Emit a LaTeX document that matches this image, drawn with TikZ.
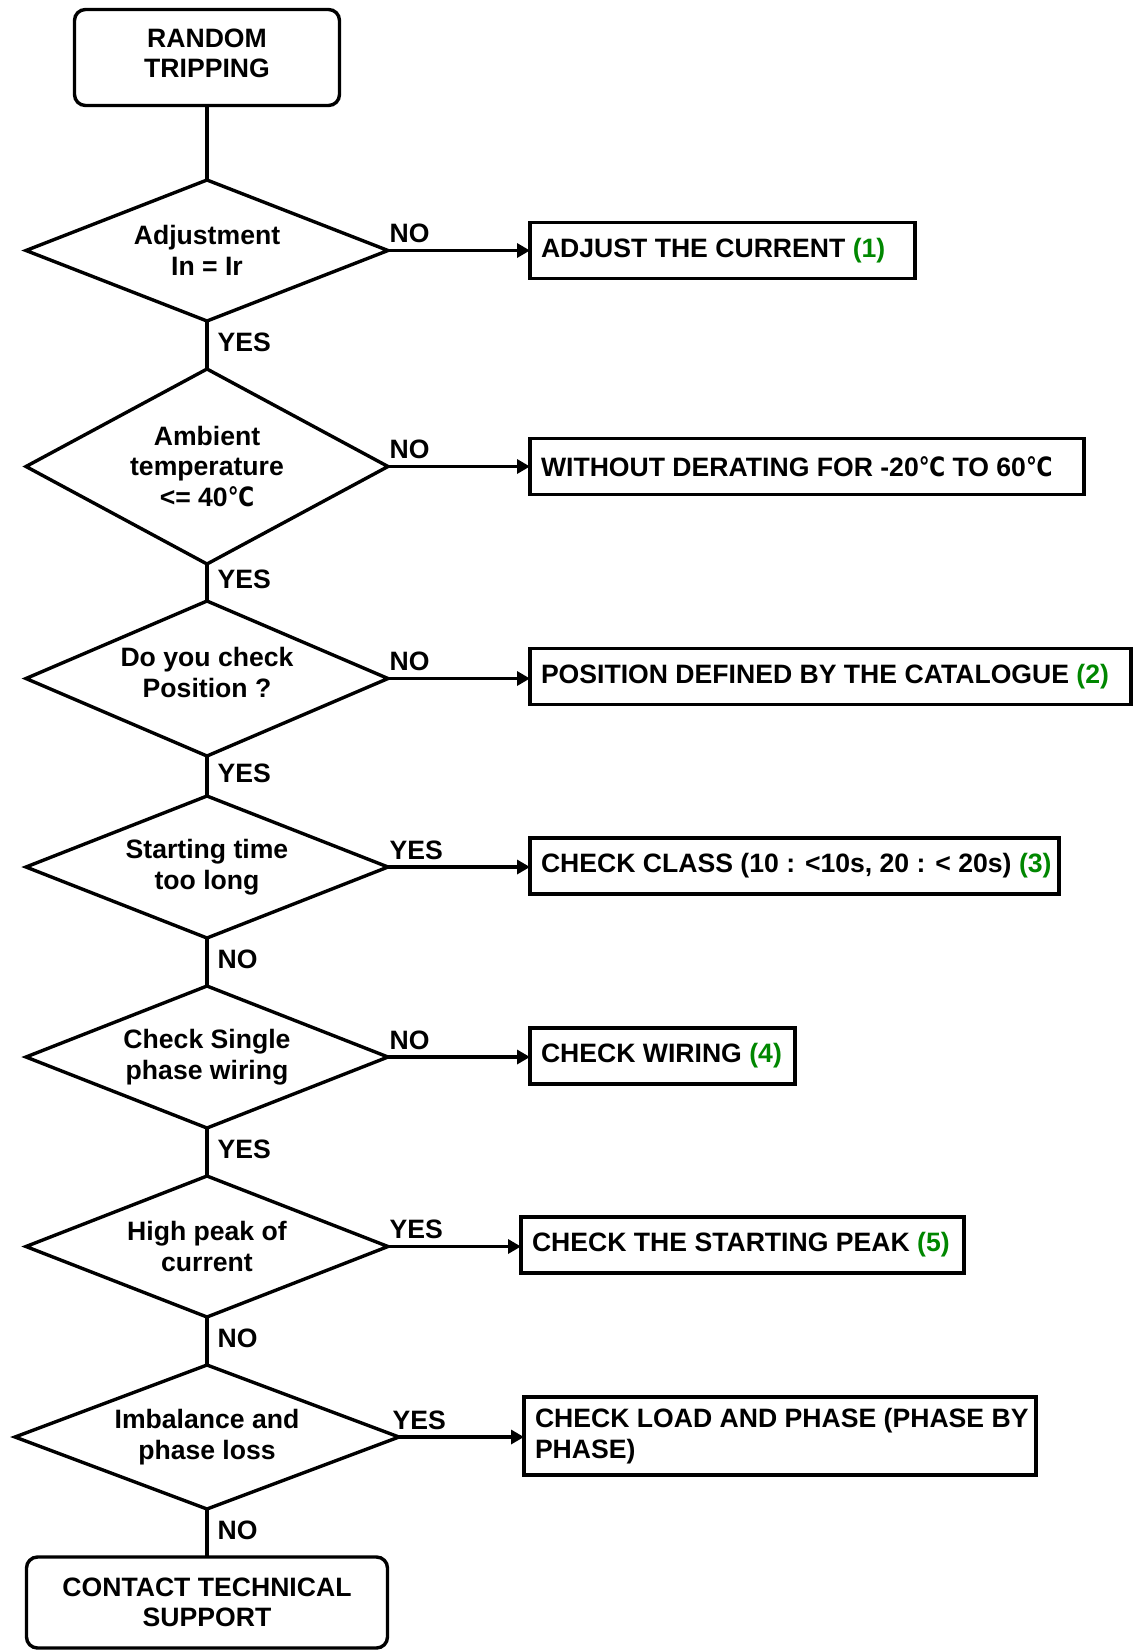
\documentclass[tikz,border=0pt]{standalone}
\usepackage{fontspec}
\setmainfont{Liberation Sans}
\newfontfamily\djv{DejaVu Sans}
\usetikzlibrary{shapes.geometric,arrows.meta,calc}
\definecolor{gn}{RGB}{0,135,0}
\newcommand\gnum[1]{\textcolor{gn}{#1}}
\newcommand\degc{\scalebox{0.82}[1]{\djv\bfseries ℃}}
\begin{document}
\begin{tikzpicture}[x=1pt,y=-1pt,
  every node/.style={font=\fontsize{26.6}{30.5}\selectfont\bfseries},
  lw/.style={line width=3.4pt},
  dia/.style={diamond, draw, lw, inner sep=0pt, outer sep=0pt, minimum width=362pt},
  dtxt/.style={align=center, inner sep=0pt},
  rbox/.style={rectangle, draw, lw, inner xsep=11pt, inner ysep=0pt, outer sep=0pt, minimum height=56pt, align=left, anchor=west},
  term/.style={rectangle, rounded corners=11pt, draw, lw, align=center, outer sep=0pt, inner sep=0pt},
  con/.style={lw},
  arr/.style={lw, -{Triangle[length=13pt,width=14pt]}},
  lbl/.style={inner sep=0pt},
  vlbl/.style={lbl, anchor=west, xshift=9pt, yshift=3pt},
  hlbl/.style={lbl, pos=0, anchor=base west, yshift=8pt},
]
\useasboundingbox (0,0) rectangle (1133,1650);

% terminals
\node[term, minimum width=265pt, minimum height=96pt] (start) at (207,57.5) {RANDOM\\TRIPPING\rule[-8.5pt]{0pt}{0pt}};
\node[term, minimum width=361pt, minimum height=91pt] (end) at (207,1602.5) {CONTACT TECHNICAL\\SUPPORT};

% decisions
\node[dia, minimum height=141pt] (d1) at (207,250.5) {};
\node[dtxt] (q1) at (d1.center) {Adjustment\\In = Ir};
\node[dia, minimum height=195pt] (d2) at (207,466.5) {};
\node[dtxt] (q2) at (d2.center) {Ambient\\temperature\\<= 40\degc};
\node[dia, minimum height=155pt] (d3) at (207,678.5) {};
\node[dtxt, yshift=6pt] (q3) at (d3.center) {Do you check\\Position ?};
\node[dia, minimum height=142pt] (d4) at (207,867) {};
\node[dtxt] (q4) at (d4.center) {Starting time\\too long};
\node[dia, minimum height=142pt] (d5) at (207,1057) {};
\node[dtxt] (q5) at (d5.center) {Check Single\\phase wiring};
\node[dia, minimum height=141pt] (d6) at (207,1246.5) {};
\node[dtxt] (q6) at (d6.center) {High peak of\\current};
\node[dia, minimum height=144pt, minimum width=384pt] (d7) at (207,1437) {};
\node[dtxt] (q7) at (d7.center) {Imbalance and\\phase loss};

% action boxes
\node[rbox] (b1) at (530,250.5) {\makebox[363pt][l]{ADJUST THE CURRENT \gnum{(1)}}};
\node[rbox] (b2) at (530,466.5) {\makebox[532pt][l]{WITHOUT DERATING FOR -20\degc{} TO 60\degc}};
\node[rbox] (b3) at (530,676.5) {\makebox[579pt][l]{POSITION DEFINED BY THE CATALOGUE \gnum{(2)}}};
\node[rbox] (b4) at (530,866) {\makebox[507pt][l]{CHECK CLASS (10 : <10s, 20 : < 20s) \gnum{(3)}}};
\node[rbox] (b5) at (530,1056) {\makebox[243pt][l]{CHECK WIRING \gnum{(4)}}};
\node[rbox] (b6) at (521,1245) {\makebox[421pt][l]{CHECK THE STARTING PEAK \gnum{(5)}}};
\node[rbox, minimum height=78pt] (b7) at (524,1436) {\makebox[490pt][l]{CHECK LOAD AND PHASE (PHASE BY}\\PHASE)};

% vertical connectors
\draw[con] (start.south) -- (d1.north);
\draw[con] (d1.south) -- node[vlbl] {YES} (d2.north);
\draw[con] (d2.south) -- node[vlbl] {YES} (d3.north);
\draw[con] (d3.south) -- node[vlbl] {YES} (d4.north);
\draw[con] (d4.south) -- node[vlbl] {NO} (d5.north);
\draw[con] (d5.south) -- node[vlbl] {YES} (d6.north);
\draw[con] (d6.south) -- node[vlbl] {NO} (d7.north);
\draw[con] (d7.south) -- node[vlbl] {NO} (end.north);

% horizontal arrows
\draw[arr] (d1.east) -- node[hlbl] {NO} (d1.east -| b1.west);
\draw[arr] (d2.east) -- node[hlbl] {NO} (d2.east -| b2.west);
\draw[arr] (d3.east) -- node[hlbl] {NO} (d3.east -| b3.west);
\draw[arr] (d4.east) -- node[hlbl] {YES} (d4.east -| b4.west);
\draw[arr] (d5.east) -- node[hlbl] {NO} (d5.east -| b5.west);
\draw[arr] (d6.east) -- node[hlbl] {YES} (d6.east -| b6.west);
\draw[arr] (d7.east) -- node[hlbl, xshift=-8pt] {YES} (d7.east -| b7.west);
\end{tikzpicture}
\end{document}
